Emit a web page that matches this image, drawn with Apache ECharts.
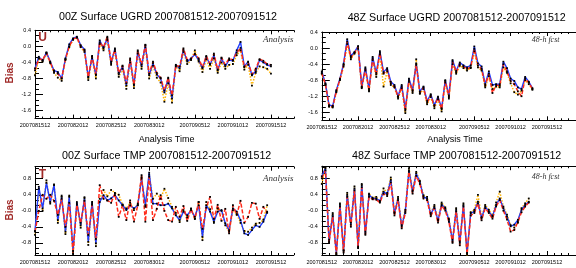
<!DOCTYPE html>
<html>
<head>
<meta charset="utf-8">
<script src="https://cdn.jsdelivr.net/npm/echarts@6/dist/echarts.min.js"></script>
<style>
  html, body { margin: 0; padding: 0; background: #fff; }
  #main { width: 576px; height: 268px; }
</style>
</head>
<body>
<div id="main"></div>
<script>
// surface bias, 12-hourly samples from 2007081512
const tlRed = [-0.60,-0.30,-0.34,-0.16,-0.40,-0.62,-0.68,-0.80,-0.32,0.00,
  0.18,0.22,0.00,-0.10,-0.76,-0.24,-0.70,0.10,-0.02,0.24,
  -0.38,-0.08,-0.66,-0.48,-0.92,-0.30,-0.95,-0.10,-0.45,0.04,
  -0.68,-0.38,-0.66,-0.78,-1.10,-0.78,-1.22,-0.48,-0.50,-0.05,
  -0.34,-0.32,-0.18,-0.30,-0.52,-0.24,-0.44,-0.18,-0.58,-0.28,
  -0.46,-0.30,-0.34,-0.16,-0.04,-0.52,-0.40,-0.70,-0.56,-0.32,
  -0.36,-0.44,-0.46]
const tlBlue = [-0.55,-0.26,-0.36,-0.15,-0.38,-0.60,-0.64,-0.80,-0.30,0.05,
  0.20,0.24,0.03,-0.08,-0.78,-0.26,-0.72,0.15,-0.05,0.21,
  -0.42,-0.05,-0.70,-0.50,-0.98,-0.34,-0.97,-0.13,-0.50,0.03,
  -0.72,-0.42,-0.70,-0.80,-1.15,-0.80,-1.30,-0.46,-0.55,-0.09,
  -0.38,-0.30,-0.20,-0.34,-0.55,-0.26,-0.46,-0.22,-0.60,-0.30,
  -0.50,-0.34,-0.36,-0.10,0.11,-0.50,-0.38,-0.72,-0.62,-0.34,
  -0.40,-0.46,-0.50]
const tlOrange = [-0.72,-0.30,-0.38,-0.18,-0.42,-0.66,-0.78,-0.86,-0.34,-0.02,
  0.16,0.22,-0.02,-0.14,-0.84,-0.30,-0.80,0.06,-0.10,0.16,
  -0.46,-0.12,-0.76,-0.56,-1.06,-0.40,-1.04,-0.18,-0.56,-0.02,
  -0.80,-0.48,-0.78,-0.90,-1.38,-0.92,-1.40,-0.50,-0.62,-0.14,
  -0.44,-0.34,-0.10,-0.38,-0.64,-0.32,-0.56,-0.30,-0.66,-0.40,
  -0.56,-0.46,-0.44,-0.22,-0.10,-0.58,-0.46,-0.98,-0.66,-0.50,
  -0.52,-0.56,-0.68]

const trRed = [-0.62,-0.90,-1.45,-1.46,-1.08,-0.78,-0.42,0.16,-0.24,-0.12,
  0.03,-0.98,-0.52,-1.06,-0.26,-0.66,-0.12,-0.64,-0.54,-0.88,
  -0.96,-1.22,-0.96,-1.56,-0.80,-1.08,-0.42,-1.12,-0.98,-1.36,
  -1.18,-1.45,-1.24,-1.52,-0.82,-1.22,-0.34,-0.60,-0.40,-0.46,
  -0.52,-0.48,-0.02,-0.44,-0.52,-0.94,-0.64,-1.12,-0.92,-0.94,
  -0.40,-0.58,-0.82,-0.90,-1.08,-1.20,-0.76,-0.86,-1.02]
const trBlue = [-0.58,-0.88,-1.42,-1.44,-1.05,-0.76,-0.39,0.22,-0.20,-0.10,
  0.05,-0.96,-0.48,-1.02,-0.22,-0.62,-0.08,-0.60,-0.50,-0.84,
  -0.92,-1.20,-0.92,-1.52,-0.76,-1.05,-0.38,-1.08,-0.96,-1.32,
  -1.15,-1.42,-1.21,-1.50,-0.80,-1.18,-0.30,-0.57,-0.36,-0.43,
  -0.48,-0.43,0.04,-0.38,-0.46,-0.90,-0.58,-0.92,-0.90,-0.90,
  -0.34,-0.50,-0.76,-0.82,-0.98,-1.02,-0.72,-0.84,-1.00]
const trOrange = [-0.64,-0.92,-1.46,-1.48,-1.10,-0.80,-0.46,0.10,-0.28,-0.14,
  -0.02,-1.00,-0.56,-1.08,-0.30,-0.72,-0.16,-0.96,-0.58,-0.92,
  -0.98,-1.26,-1.00,-1.62,-0.84,-1.12,-0.28,-1.14,-1.02,-1.40,
  -1.22,-1.50,-1.28,-1.58,-0.86,-1.26,-0.40,-0.64,-0.44,-0.50,
  -0.56,-0.50,-0.08,-0.48,-0.56,-0.98,-0.70,-1.02,-0.96,-0.98,
  -0.48,-0.62,-0.88,-1.10,-1.16,-1.06,-0.80,-0.90,-1.04]

const blRed = [-0.52,0.00,0.40,0.30,0.40,0.25,-0.10,0.30,-0.40,0.20,
  -1.06,0.15,-0.30,0.25,-0.60,0.15,-0.70,0.64,0.30,0.26,
  0.20,0.43,-0.15,0.14,-0.23,0.26,-0.27,0.14,0.89,-0.27,
  0.85,-0.23,0.05,0.39,0.00,-0.23,-0.27,0.10,-0.15,0.12,
  -0.25,0.05,-0.20,0.22,-0.45,0.08,0.35,-0.20,0.15,-0.25,
  0.05,-0.56,0.14,-0.10,0.25,-0.30,-0.15,0.20,0.18,-0.20,
  0.10,-0.05]
const blBlue = [-0.50,0.60,0.06,0.70,0.22,0.64,-0.23,0.35,-0.52,0.35,
  -1.00,0.22,-0.36,0.31,-0.77,0.22,-0.81,0.22,0.39,0.26,
  0.31,0.39,0.26,0.14,0.02,0.14,0.06,0.14,0.80,0.14,
  0.95,0.18,0.18,0.14,0.14,0.18,0.06,-0.11,-0.23,-0.02,
  -0.11,0.02,-0.15,0.14,-0.65,0.14,-0.02,-0.27,-0.02,0.02,
  -0.31,-0.48,0.06,-0.02,-0.23,-0.56,-0.60,-0.48,-0.36,-0.40,
  -0.27,-0.02]
const blOrange = [-0.60,0.55,0.00,0.76,0.18,0.66,-0.30,0.38,-0.58,0.38,
  -1.08,0.18,-0.42,0.34,-0.85,0.18,-0.88,0.30,0.52,0.36,
  0.52,0.45,0.40,0.16,0.06,0.20,0.02,0.18,0.84,0.10,
  0.90,0.30,0.43,0.30,0.55,0.32,0.10,-0.05,-0.28,0.02,
  -0.16,0.06,-0.20,0.22,-0.73,0.22,0.04,-0.30,0.06,0.00,
  -0.36,-0.52,0.02,-0.08,-0.30,-0.50,-0.52,-0.42,-0.32,-0.30,
  -0.22,0.14]

const brRed = [0.80,1.00,-0.80,-0.14,-1.08,0.10,-1.04,0.34,-0.40,0.50,
  -0.93,0.58,-0.60,0.34,0.28,0.27,0.20,0.42,0.36,0.70,
  -0.12,0.26,-0.44,-0.06,0.96,0.42,0.86,0.66,0.30,0.26,
  -0.14,0.06,-0.30,0.12,0.00,-0.28,-0.80,-0.02,-0.86,0.10,
  -1.08,-0.12,-0.06,0.18,-0.24,0.06,-0.06,-0.20,0.10,0.26,
  0.00,-0.22,-0.52,-0.48,-0.28,-0.04,0.10,0.20]
const brBlue = [0.85,1.05,-0.76,-0.10,-1.05,0.14,-1.00,0.39,-0.35,0.55,
  -0.89,0.63,-0.56,0.39,0.30,0.30,0.24,0.47,0.40,0.76,
  -0.07,0.30,-0.39,-0.02,1.00,0.47,0.92,0.71,0.34,0.30,
  -0.10,0.10,-0.25,0.16,0.05,-0.23,-0.76,0.02,-0.80,0.14,
  -1.05,-0.07,-0.02,0.22,-0.19,0.10,-0.02,-0.15,0.14,0.30,
  0.06,-0.15,-0.39,-0.35,-0.23,0.02,0.14,0.22]
const brOrange = [0.66,1.08,-0.72,-0.06,-1.10,0.18,-0.98,0.44,-0.30,0.60,
  -0.92,0.66,-0.52,0.42,0.32,0.34,0.22,0.55,0.44,0.82,
  -0.04,0.34,-0.36,0.02,1.05,0.50,0.96,0.74,0.38,0.34,
  -0.06,0.14,-0.22,0.20,0.08,-0.20,-0.72,0.06,-0.76,0.18,
  -1.12,-0.04,0.02,0.39,-0.16,0.14,0.02,-0.12,0.20,0.47,
  0.10,-0.10,-0.36,-0.42,-0.30,0.06,0.18,0.30]

// days after 2007081512
const xTickDays = [0, 5, 10, 15, 21, 26, 31]
const xTickLabels = ['2007081512', '2007082012', '2007082512', '2007083012', '2007090512', '2007091012', '2007091512']
const uTickVals = [0.4, 0.0, -0.4, -0.8, -1.2, -1.6]
const uTickLabels = ['0.4', '0.0', '-0.4', '-0.8', '-1.2', '-1.6']
const tTickVals = [0.8, 0.4, 0.0, -0.4, -0.8]
const tTickLabels = ['0.8', '0.4', '-0.0', '-0.4', '-0.8']

const panels = [
  { left: 35, top: 30.3, width: 258.8, height: 88.3, xmax: 34, ymin: -1.8, ymax: 0.4, yVals: uTickVals, yLabels: uTickLabels, red: tlRed, blue: tlBlue, orange: tlOrange },
  { left: 321.8, top: 32, width: 266.5, height: 88.3, xmax: 35, ymin: -1.8, ymax: 0.4, yVals: uTickVals, yLabels: uTickLabels, red: trRed, blue: trBlue, orange: trOrange },
  { left: 35, top: 166.7, width: 258.8, height: 88.3, xmax: 34, ymin: -1.1, ymax: 1.1, yVals: tTickVals, yLabels: tTickLabels, red: blRed, blue: blBlue, orange: blOrange },
  { left: 321.8, top: 166.2, width: 266.5, height: 88.8, xmax: 35, ymin: -1.1, ymax: 1.1, yVals: tTickVals, yLabels: tTickLabels, red: brRed, blue: brBlue, orange: brOrange }
]

function pickLabel (vals, labels, v) {
  for (let k = 0; k < vals.length; k++) {
    if (Math.abs(vals[k] - v) < 1e-6) return labels[k]
  }
  return ''
}

function minorVals (p) {
  let out = []
  for (let k = -30; k <= 30; k++) {
    let v = k * 0.4 / 3
    if (v <= p.ymin || v >= p.ymax) continue
    if (k % 3 === 0) continue
    out.push(v)
  }
  return out
}

const tickFont = { fontSize: 5.5, color: '#000', fontFamily: 'Liberation Sans' }
const blackTick = { color: '#000', width: 1 }
let grids = [], xAxes = [], yAxes = [], series = []

panels.forEach((p, g) => {
  grids.push({ left: p.left, top: p.top, width: p.width, height: p.height })
  let xBase = { gridIndex: g, type: 'value', min: 0, max: p.xmax, splitLine: { show: false } }
  xAxes.push(Object.assign({}, xBase, {
    position: 'bottom',
    axisLine: { onZero: false, lineStyle: blackTick },
    axisTick: { customValues: xTickDays, inside: true, length: 4, lineStyle: blackTick },
    axisLabel: Object.assign({ customValues: xTickDays, margin: 4, formatter: v => pickLabel(xTickDays, xTickLabels, v) }, tickFont)
  }))
  xAxes.push(Object.assign({}, xBase, {
    position: 'bottom', interval: 1,
    axisLine: { show: false, onZero: false },
    axisTick: { inside: true, length: 2, lineStyle: blackTick },
    axisLabel: { show: false }
  }))
  xAxes.push(Object.assign({}, xBase, {
    position: 'top',
    axisLine: { onZero: false, lineStyle: blackTick },
    axisTick: { customValues: xTickDays, inside: true, length: 4, lineStyle: blackTick },
    axisLabel: { show: false }
  }))
  xAxes.push(Object.assign({}, xBase, {
    position: 'top', interval: 1,
    axisLine: { show: false, onZero: false },
    axisTick: { inside: true, length: 2, lineStyle: blackTick },
    axisLabel: { show: false }
  }))

  let yBase = { gridIndex: g, type: 'value', min: p.ymin, max: p.ymax, position: 'left', splitLine: { show: false } }
  yAxes.push(Object.assign({}, yBase, {
    axisLine: { onZero: false, lineStyle: blackTick },
    axisTick: { customValues: p.yVals, inside: true, length: 8, lineStyle: blackTick },
    axisLabel: Object.assign({ customValues: p.yVals, margin: 4, formatter: v => pickLabel(p.yVals, p.yLabels, v) }, tickFont)
  }))
  yAxes.push(Object.assign({}, yBase, {
    axisLine: { show: false, onZero: false },
    axisTick: { customValues: minorVals(p), inside: true, length: 4, lineStyle: blackTick },
    axisLabel: { show: false }
  }))

  let mk = (vals, color, type, width) => ({
    type: 'line',
    xAxisIndex: g * 4,
    yAxisIndex: g * 2,
    data: vals.map((v, i) => [i * 0.5, v]),
    symbol: 'rect',
    symbolSize: 1.8,
    itemStyle: { color: '#000' },
    lineStyle: { color: color, type: type, width: width },
    emphasis: { disabled: true }
  })
  series.push(mk(p.orange, '#ffb400', [1.5, 1.5], 1.5))
  series.push(mk(p.blue, '#1f3cff', 'solid', 1.4))
  series.push(mk(p.red, '#ff2a1a', [4, 2], 1.5))
})

function txt (text, x, y, font, fill, align, rotation) {
  return {
    type: 'text', x: x, y: y, rotation: rotation || 0,
    style: { text: text, font: font, fill: fill, align: align || 'center', verticalAlign: 'middle' }
  }
}

const titleFont = '10.7px "Liberation Sans"'
const graphics = [
  txt('00Z Surface UGRD 2007081512-2007091512', 168, 16.7, titleFont, '#000'),
  txt('48Z Surface UGRD 2007081512-2007091512', 456.7, 18.3, titleFont, '#000'),
  txt('00Z Surface TMP 2007081512-2007091512', 166.7, 155.7, titleFont, '#000'),
  txt('48Z Surface TMP 2007081512-2007091512', 456.7, 155.7, titleFont, '#000'),
  txt('Analysis Time', 166.7, 139.3, '9px "Liberation Sans"', '#000'),
  txt('Analysis Time', 455, 139.3, '9px "Liberation Sans"', '#000'),
  txt('Bias', 10, 73, 'bold 10px "Liberation Sans"', '#a02a28', 'center', Math.PI / 2),
  txt('Bias', 10, 210, 'bold 10px "Liberation Sans"', '#a02a28', 'center', Math.PI / 2),
  txt('U', 42.5, 38, 'bold 12px "Liberation Sans"', '#a02a28'),
  txt('T', 42.5, 174.5, 'bold 12px "Liberation Sans"', '#a02a28'),
  txt('Analysis', 263, 40, 'italic 9px "Liberation Serif"', '#333', 'left'),
  txt('Analysis', 263, 178.3, 'italic 9px "Liberation Serif"', '#333', 'left'),
  txt('48-h fcst', 559.5, 40, 'italic 8px "Liberation Serif"', '#333', 'right'),
  txt('48-h fcst', 559.5, 176.7, 'italic 8px "Liberation Serif"', '#333', 'right')
]

let myChart = echarts.init(document.getElementById('main'))
myChart.setOption({
  animation: false,
  backgroundColor: '#fff',
  grid: grids,
  xAxis: xAxes,
  yAxis: yAxes,
  series: series,
  graphic: graphics
})
</script>
</body>
</html>
